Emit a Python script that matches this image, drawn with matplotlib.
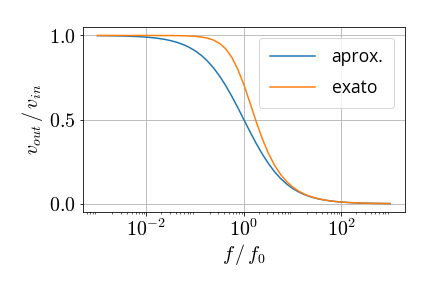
import matplotlib
matplotlib.use("Agg")
import matplotlib.pyplot as plt

f_ratio = [0.001, 0.001334, 0.001778, 0.002371, 0.003162, 0.004217, 0.005623, 0.007499,
           0.01, 0.01334, 0.01778, 0.02371, 0.03162, 0.04217, 0.05623, 0.07499,
           0.1, 0.1334, 0.1778, 0.2371, 0.3162, 0.4217, 0.5623, 0.7499,
           1.0, 1.334, 1.778, 2.371, 3.162, 4.217, 5.623, 7.499,
           10.0, 13.34, 17.78, 23.71, 31.62, 42.17, 56.23, 74.99,
           100.0, 133.4, 177.8, 237.1, 316.2, 421.7, 562.3, 749.9, 1000.0]
aprox = [0.9990, 0.9987, 0.9982, 0.9976, 0.9968, 0.9958, 0.9944, 0.9926,
         0.9901, 0.9868, 0.9825, 0.9768, 0.9693, 0.9595, 0.9468, 0.9302,
         0.9091, 0.8823, 0.8490, 0.8083, 0.7597, 0.7034, 0.6401, 0.5714,
         0.5000, 0.4286, 0.3599, 0.2966, 0.2403, 0.1917, 0.1510, 0.1177,
         0.0909, 0.0698, 0.0532, 0.0405, 0.0307, 0.0232, 0.0175, 0.0132,
         0.0099, 0.0074, 0.0056, 0.0042, 0.0032, 0.0024, 0.0018, 0.0013, 0.0010]
exato = [1.0000, 1.0000, 1.0000, 1.0000, 1.0000, 1.0000, 1.0000, 1.0000,
         1.0000, 0.9999, 0.9998, 0.9997, 0.9995, 0.9991, 0.9984, 0.9972,
         0.9950, 0.9912, 0.9846, 0.9730, 0.9535, 0.9214, 0.8716, 0.8000,
         0.7071, 0.6000, 0.4902, 0.3886, 0.3015, 0.2307, 0.1751, 0.1322,
         0.0995, 0.0748, 0.0561, 0.0421, 0.0316, 0.0237, 0.0178, 0.0133,
         0.0100, 0.0075, 0.0056, 0.0042, 0.0032, 0.0024, 0.0018, 0.0013, 0.0010]
series_labels = ["aprox.", "exato"]
xtick_vals = [1e-2, 1e0, 1e2]
xtick_labels = [r"$10^{-2}$", r"$10^{0}$", r"$10^{2}$"]
ytick_vals = [0.0, 0.5, 1.0]
ytick_labels = [r"$0.0$", r"$0.5$", r"$1.0$"]

plt.rcParams["mathtext.fontset"] = "cm"

fig = plt.figure(figsize=(6, 4), dpi=72)
ax = fig.add_axes([0.192, 0.264, 0.745, 0.642])
ax.plot(f_ratio, aprox, color="#1f77b4", lw=1.5, label=series_labels[0])
ax.plot(f_ratio, exato, color="#ff7f0e", lw=1.5, label=series_labels[1])
ax.set_xscale("log")
ax.set_xticks(xtick_vals)
ax.set_xticklabels(xtick_labels, fontsize=20)
ax.set_yticks(ytick_vals)
ax.set_yticklabels(ytick_labels, fontsize=20)
ax.grid(True, which="major", color="#b0b0b0", lw=0.8)
ax.set_xlabel(r"$f\,/\,f_0$", fontsize=20, labelpad=2)
ax.set_ylabel(r"$v_{out}\,/\,v_{in}$", fontsize=20, labelpad=4)
ax.legend(loc="upper right", prop={"family": "Open Sans", "size": 17.5},
          handlelength=2.6, handletextpad=0.95, borderpad=0.62,
          labelspacing=0.72, borderaxespad=0.6)
fig.savefig("out.png", dpi=72)
